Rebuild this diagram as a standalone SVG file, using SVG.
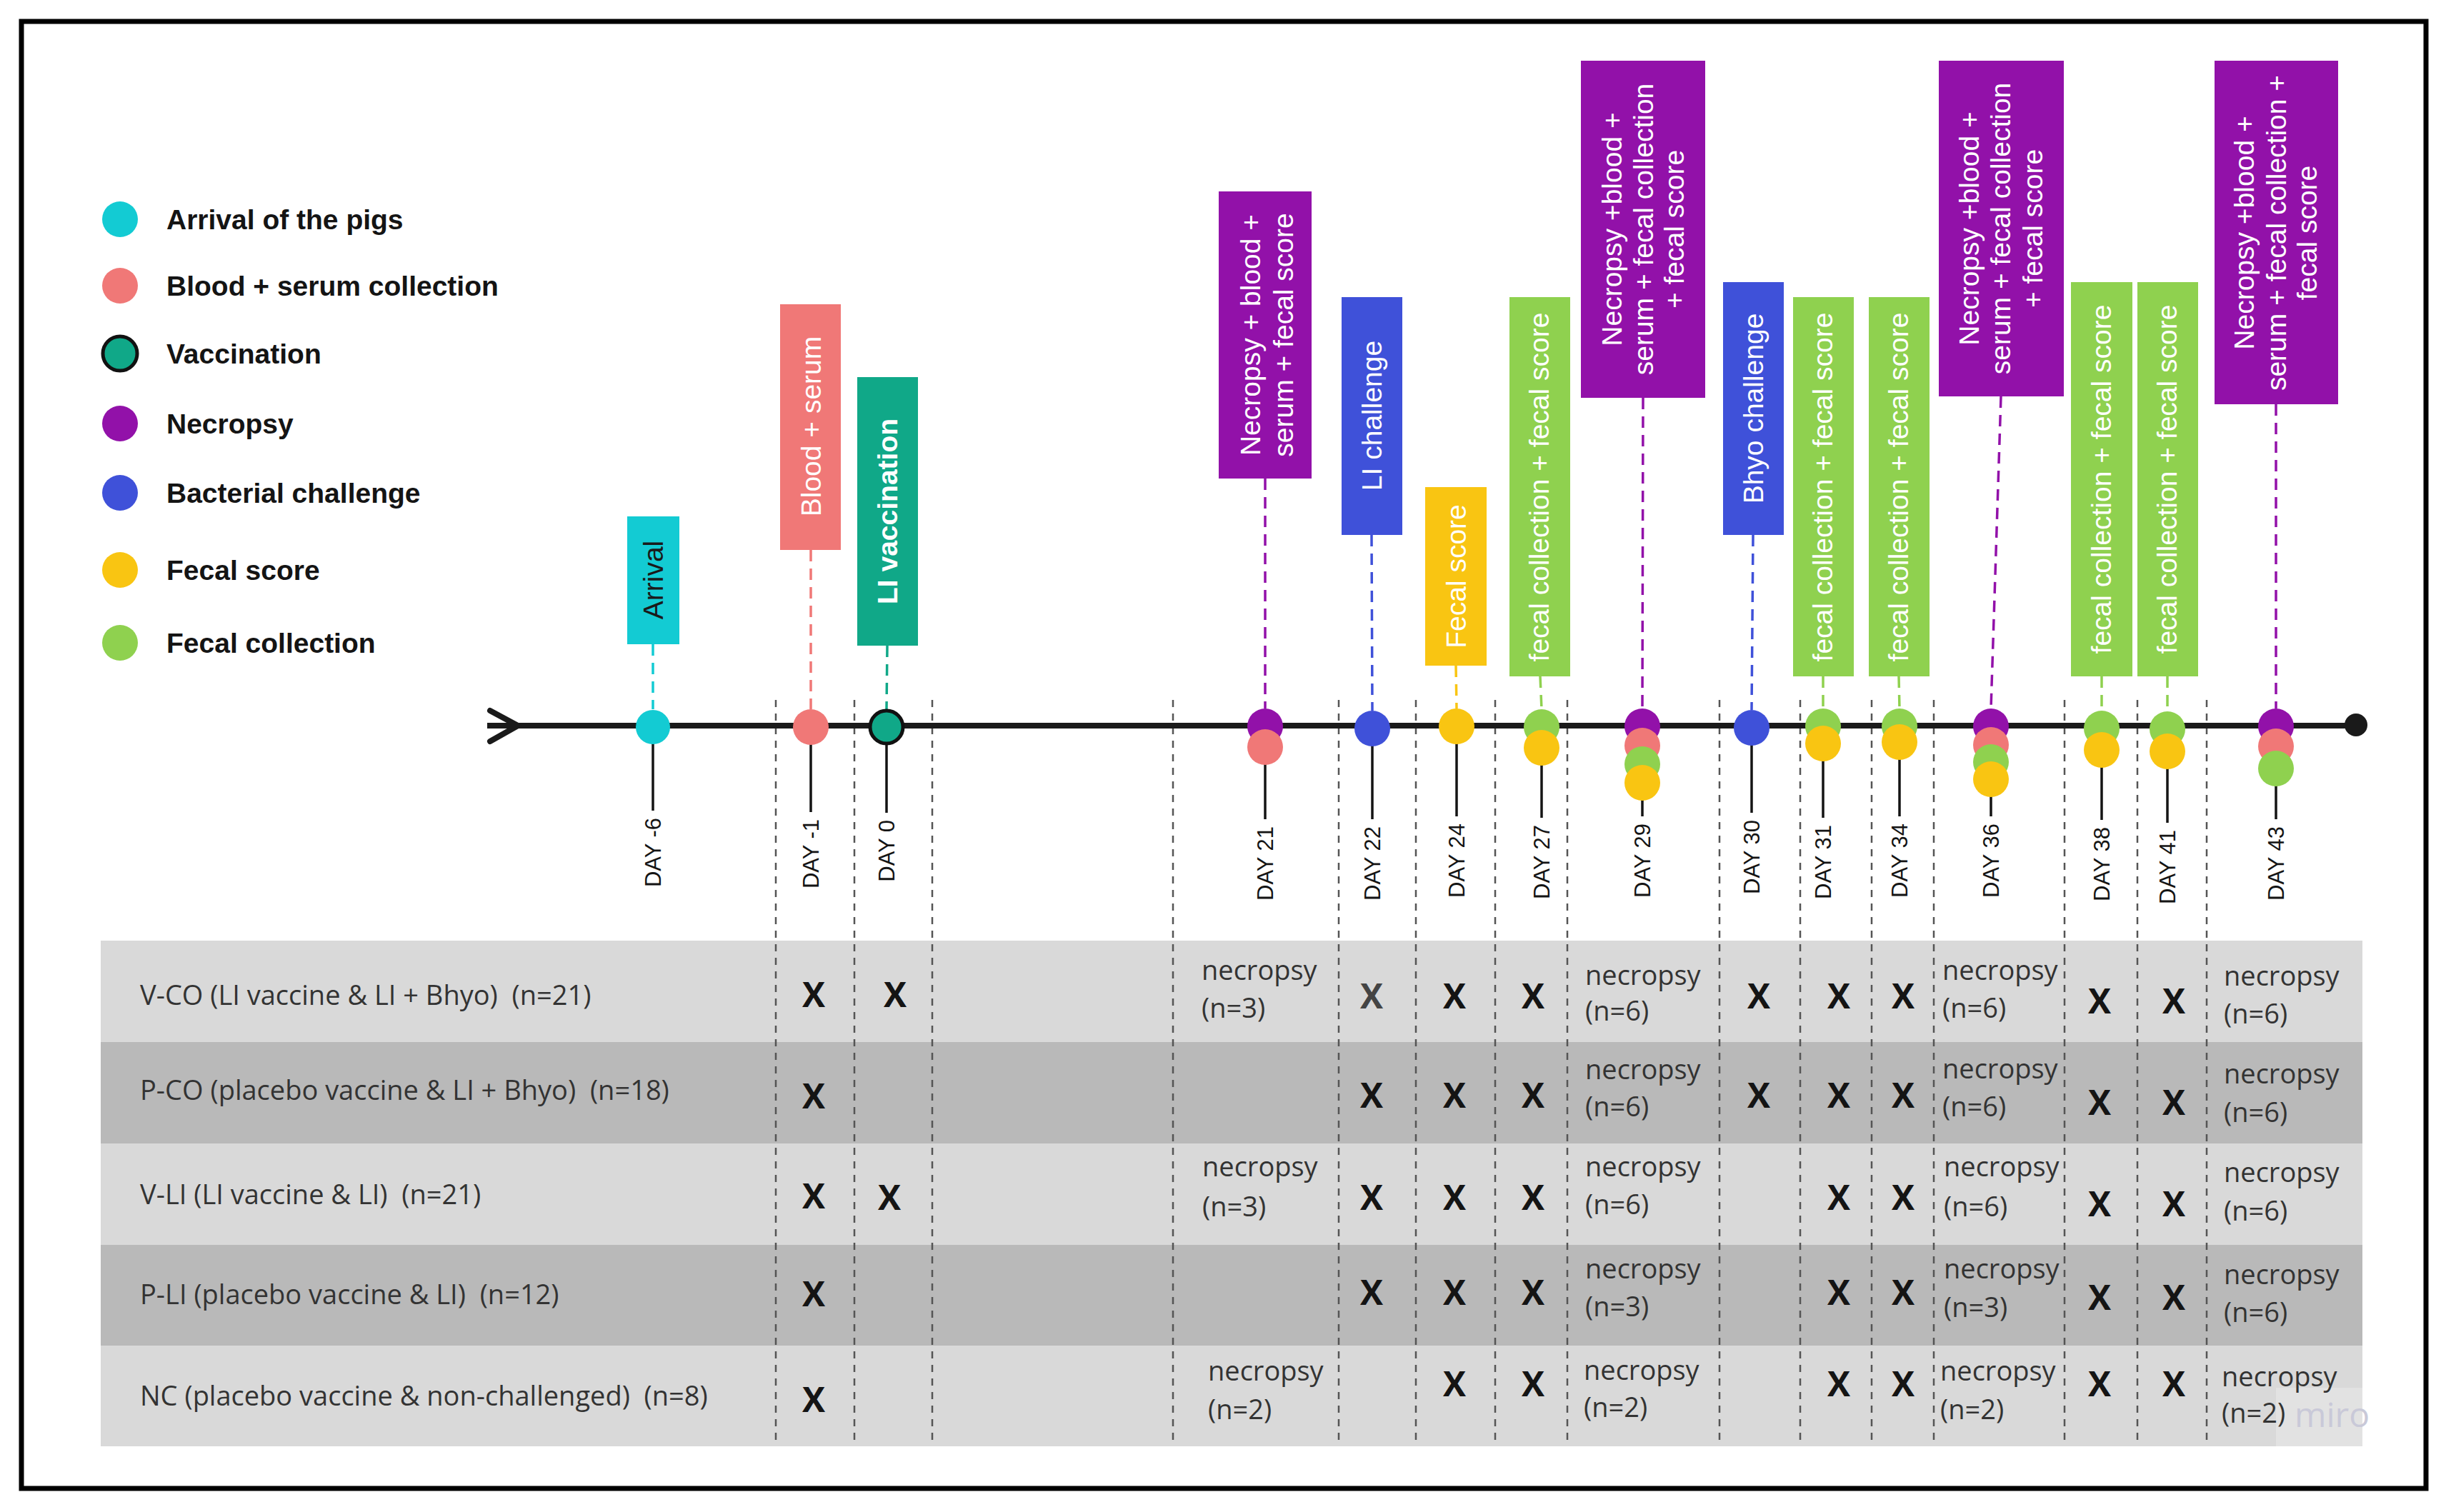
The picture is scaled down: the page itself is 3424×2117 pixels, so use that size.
<svg xmlns="http://www.w3.org/2000/svg" width="3424" height="2117" viewBox="0 0 3424 2117">
<style>
.lg{font-family:"Liberation Sans",Arial,sans-serif;font-weight:bold;font-size:39px;fill:#141414}
.bx{font-family:"Liberation Sans",Arial,sans-serif;font-size:39px;fill:#fff;text-anchor:middle}
.day{font-family:"Liberation Sans",Arial,sans-serif;font-size:31px;fill:#141414;text-anchor:end}
.tb{font-family:"Open Sans",sans-serif;font-size:38px;fill:#333}
.x{font-family:"Open Sans",sans-serif;font-weight:700;font-size:48px;fill:#141414;text-anchor:middle}
.sep{stroke:#555;stroke-width:2.5;stroke-dasharray:10 9;fill:none}
.con{stroke-width:3.5;stroke-dasharray:16 10;fill:none}
.stem{stroke:#141414;stroke-width:3.5}
.cy{fill:#13cbd3}.pk{fill:#f07877}.tl{fill:#10a888}.pu{fill:#9211a9}.bl{fill:#3f51d9}.ye{fill:#f9c512}.gr{fill:#8fd14f}
</style>
<rect width="3424" height="2117" fill="#fff"/>
<rect x="30" y="30" width="3366" height="2054" fill="none" stroke="#000" stroke-width="7"/>

<g id="legend">
<circle class="cy" cx="168" cy="307" r="25"/><text class="lg" x="233" y="321">Arrival of the pigs</text>
<circle class="pk" cx="168" cy="400" r="25"/><text class="lg" x="233" y="414">Blood + serum collection</text>
<circle class="tl" cx="168" cy="495" r="24" stroke="#111" stroke-width="5"/><text class="lg" x="233" y="509">Vaccination</text>
<circle class="pu" cx="168" cy="593" r="25"/><text class="lg" x="233" y="607">Necropsy</text>
<circle class="bl" cx="168" cy="690" r="25"/><text class="lg" x="233" y="704">Bacterial challenge</text>
<circle class="ye" cx="168" cy="798" r="25"/><text class="lg" x="233" y="812">Fecal score</text>
<circle class="gr" cx="168" cy="900" r="25"/><text class="lg" x="233" y="914">Fecal collection</text>
</g>

<g id="table">
<rect x="141" y="1317" width="3166" height="142" fill="#d9d9d9"/>
<rect x="141" y="1459" width="3166" height="142" fill="#b9b9b9"/>
<rect x="141" y="1601" width="3166" height="142" fill="#d9d9d9"/>
<rect x="141" y="1743" width="3166" height="141" fill="#b9b9b9"/>
<rect x="141" y="1884" width="3166" height="141" fill="#d9d9d9"/>
<rect x="3186" y="1943" width="121" height="82" fill="#e2e2e2"/>
<text class="tb" xml:space="preserve" x="196" y="1407">V-CO (LI vaccine &amp; LI + Bhyo)  (n=21)</text>
<text class="tb" xml:space="preserve" x="196" y="1540">P-CO (placebo vaccine &amp; LI + Bhyo)  (n=18)</text>
<text class="tb" xml:space="preserve" x="196" y="1686">V-LI (LI vaccine &amp; LI)  (n=21)</text>
<text class="tb" xml:space="preserve" x="196" y="1826">P-LI (placebo vaccine &amp; LI)  (n=12)</text>
<text class="tb" xml:space="preserve" x="196" y="1968">NC (placebo vaccine &amp; non-challenged)  (n=8)</text>
</g>

<g id="separators">
<path class="sep" d="M1086 980V2025M1196 980V2025M1305 980V2025M1642 980V2025M1874 980V2025M1982 980V2025M2093 980V2025M2194 980V2025M2407 980V2025M2520 980V2025M2620 980V2025M2707 980V2025M2890 980V2025M2992 980V2025M3089 980V2025"/>
</g>

<g id="marks">
<text class="x" x="1139" y="1410">X</text><text class="x" x="1253" y="1410">X</text>
<text class="x" x="1920" y="1412" style="fill:#444">X</text><text class="x" x="2036" y="1412">X</text><text class="x" x="2146" y="1412">X</text>
<text class="x" x="2462" y="1412">X</text><text class="x" x="2574" y="1412">X</text><text class="x" x="2664" y="1412">X</text>
<text class="x" x="2939" y="1419">X</text><text class="x" x="3043" y="1419">X</text>
<text class="x" x="1139" y="1552">X</text>
<text class="x" x="1920" y="1551">X</text><text class="x" x="2036" y="1551">X</text><text class="x" x="2146" y="1551">X</text>
<text class="x" x="2462" y="1551">X</text><text class="x" x="2574" y="1551">X</text><text class="x" x="2664" y="1551">X</text>
<text class="x" x="2939" y="1561">X</text><text class="x" x="3043" y="1561">X</text>
<text class="x" x="1139" y="1692">X</text><text class="x" x="1245" y="1694">X</text>
<text class="x" x="1920" y="1694">X</text><text class="x" x="2036" y="1694">X</text><text class="x" x="2146" y="1694">X</text>
<text class="x" x="2574" y="1694">X</text><text class="x" x="2664" y="1694">X</text>
<text class="x" x="2939" y="1703">X</text><text class="x" x="3043" y="1703">X</text>
<text class="x" x="1139" y="1829">X</text>
<text class="x" x="1920" y="1827">X</text><text class="x" x="2036" y="1827">X</text><text class="x" x="2146" y="1827">X</text>
<text class="x" x="2574" y="1827">X</text><text class="x" x="2664" y="1827">X</text>
<text class="x" x="2939" y="1834">X</text><text class="x" x="3043" y="1834">X</text>
<text class="x" x="1139" y="1977">X</text>
<text class="x" x="2036" y="1955">X</text><text class="x" x="2146" y="1955">X</text>
<text class="x" x="2574" y="1955">X</text><text class="x" x="2664" y="1955">X</text>
<text class="x" x="2939" y="1955">X</text><text class="x" x="3043" y="1955">X</text>
</g>

<g id="necropsy-notes" class="tb">
<text x="1682" y="1372">necropsy</text><text x="1682" y="1425">(n=3)</text>
<text x="1683" y="1647">necropsy</text><text x="1683" y="1703">(n=3)</text>
<text x="1691" y="1933">necropsy</text><text x="1691" y="1987">(n=2)</text>
<text x="2219" y="1379">necropsy</text><text x="2219" y="1429">(n=6)</text>
<text x="2219" y="1511">necropsy</text><text x="2219" y="1563">(n=6)</text>
<text x="2219" y="1647">necropsy</text><text x="2219" y="1700">(n=6)</text>
<text x="2219" y="1790">necropsy</text><text x="2219" y="1843">(n=3)</text>
<text x="2217" y="1932">necropsy</text><text x="2217" y="1984">(n=2)</text>
<text x="2719" y="1372">necropsy</text><text x="2719" y="1425">(n=6)</text>
<text x="2719" y="1510">necropsy</text><text x="2719" y="1563">(n=6)</text>
<text x="2721" y="1647">necropsy</text><text x="2721" y="1703">(n=6)</text>
<text x="2721" y="1790">necropsy</text><text x="2721" y="1844">(n=3)</text>
<text x="2716" y="1933">necropsy</text><text x="2716" y="1987">(n=2)</text>
<text x="3113" y="1380">necropsy</text><text x="3113" y="1433">(n=6)</text>
<text x="3113" y="1517">necropsy</text><text x="3113" y="1571">(n=6)</text>
<text x="3113" y="1655">necropsy</text><text x="3113" y="1709">(n=6)</text>
<text x="3113" y="1798">necropsy</text><text x="3113" y="1851">(n=6)</text>
<text x="3110" y="1941">necropsy</text><text x="3110" y="1992">(n=2)</text>
</g>
<text x="3212" y="1998" font-family="Open Sans, sans-serif" font-size="48" fill="#c9c9d8">miro</text>

<g id="connectors">
<line class="con" stroke="#13cbd3" x1="914" y1="902" x2="914" y2="993"/>
<line class="con" stroke="#f07877" x1="1135" y1="770" x2="1135" y2="993"/>
<line class="con" stroke="#10a888" x1="1242" y1="904" x2="1241" y2="993"/>
<line class="con" stroke="#9211a9" x1="1771" y1="670" x2="1771" y2="992"/>
<line class="con" stroke="#3f51d9" x1="1920" y1="749" x2="1921" y2="995"/>
<line class="con" stroke="#f9c512" x1="2038" y1="932" x2="2039" y2="992"/>
<line class="con" stroke="#8fd14f" x1="2156" y1="947" x2="2158" y2="993"/>
<line class="con" stroke="#9211a9" x1="2300" y1="557" x2="2299" y2="992"/>
<line class="con" stroke="#3f51d9" x1="2454" y1="749" x2="2452" y2="994"/>
<line class="con" stroke="#8fd14f" x1="2552" y1="947" x2="2552" y2="992"/>
<line class="con" stroke="#8fd14f" x1="2658" y1="947" x2="2659" y2="992"/>
<line class="con" stroke="#9211a9" x1="2801" y1="555" x2="2787" y2="992"/>
<line class="con" stroke="#8fd14f" x1="2942" y1="947" x2="2942" y2="995"/>
<line class="con" stroke="#8fd14f" x1="3034" y1="947" x2="3034" y2="996"/>
<line class="con" stroke="#9211a9" x1="3186" y1="566" x2="3186" y2="992"/>
</g>

<g id="timeline">
<line x1="682" y1="1016" x2="3298" y2="1016" stroke="#1a1a1a" stroke-width="8"/>
<polyline points="686,995 725,1016 686,1038" fill="none" stroke="#1a1a1a" stroke-width="8" stroke-linecap="round" stroke-linejoin="round"/>
<circle cx="3298" cy="1015" r="16" fill="#1a1a1a"/>
<path class="stem" d="M914 1016V1135M1135 1016V1137M1241 1016V1138M1771 1016V1147M1921 1016V1147M2039 1016V1143M2158 1016V1145M2299 1016V1143M2452 1016V1138M2552 1016V1145M2659 1016V1143M2787 1016V1143M2942 1016V1148M3034 1016V1152M3186 1016V1147"/>
</g>

<g id="dots">
<circle class="cy" cx="914" cy="1018" r="24"/>
<circle class="pk" cx="1135" cy="1018" r="25"/>
<circle class="tl" cx="1241" cy="1018" r="23" stroke="#111" stroke-width="5"/>
<circle class="pu" cx="1771" cy="1017" r="25"/><circle class="pk" cx="1771" cy="1046" r="25"/>
<circle class="bl" cx="1921" cy="1020" r="25"/>
<circle class="ye" cx="2039" cy="1017" r="25"/>
<circle class="gr" cx="2158" cy="1018" r="25"/><circle class="ye" cx="2158" cy="1047" r="25"/>
<circle class="pu" cx="2299" cy="1017" r="25"/><circle class="pk" cx="2299" cy="1044" r="25"/><circle class="gr" cx="2299" cy="1070" r="25"/><circle class="ye" cx="2299" cy="1096" r="25"/>
<circle class="bl" cx="2452" cy="1019" r="25"/>
<circle class="gr" cx="2552" cy="1017" r="25"/><circle class="ye" cx="2552" cy="1041" r="25"/>
<circle class="gr" cx="2659" cy="1017" r="25"/><circle class="ye" cx="2659" cy="1039" r="25"/>
<circle class="pu" cx="2787" cy="1017" r="25"/><circle class="pk" cx="2787" cy="1043" r="25"/><circle class="gr" cx="2787" cy="1067" r="25"/><circle class="ye" cx="2787" cy="1091" r="25"/>
<circle class="gr" cx="2942" cy="1020" r="25"/><circle class="ye" cx="2942" cy="1050" r="25"/>
<circle class="gr" cx="3034" cy="1021" r="25"/><circle class="ye" cx="3034" cy="1052" r="25"/>
<circle class="pu" cx="3186" cy="1017" r="25"/><circle class="pk" cx="3186" cy="1045" r="25"/><circle class="gr" cx="3186" cy="1076" r="25"/>
</g>

<g id="day-labels" class="day">
<text transform="translate(925,1145) rotate(-90)">DAY -6</text>
<text transform="translate(1146,1147) rotate(-90)">DAY -1</text>
<text transform="translate(1252,1148) rotate(-90)">DAY 0</text>
<text transform="translate(1782,1157) rotate(-90)">DAY 21</text>
<text transform="translate(1932,1157) rotate(-90)">DAY 22</text>
<text transform="translate(2050,1153) rotate(-90)">DAY 24</text>
<text transform="translate(2169,1155) rotate(-90)">DAY 27</text>
<text transform="translate(2310,1153) rotate(-90)">DAY 29</text>
<text transform="translate(2463,1148) rotate(-90)">DAY 30</text>
<text transform="translate(2563,1155) rotate(-90)">DAY 31</text>
<text transform="translate(2670,1153) rotate(-90)">DAY 34</text>
<text transform="translate(2798,1153) rotate(-90)">DAY 36</text>
<text transform="translate(2953,1158) rotate(-90)">DAY 38</text>
<text transform="translate(3045,1162) rotate(-90)">DAY 41</text>
<text transform="translate(3197,1157) rotate(-90)">DAY 43</text>
</g>

<g id="box-arrival"><rect class="cy" x="878" y="723" width="73" height="179"/><text class="bx" style="fill:#1a1a1a" transform="translate(928,812) rotate(-90)">Arrival</text></g>
<g id="box-blood"><rect class="pk" x="1092" y="426" width="85" height="344"/><text class="bx" transform="translate(1149,597) rotate(-90)">Blood + serum</text></g>
<g id="box-vaccination"><rect class="tl" x="1200" y="528" width="85" height="376"/><text class="bx" font-weight="bold" transform="translate(1256,716) rotate(-90)">LI vaccination</text></g>
<g id="box-day21"><rect class="pu" x="1706" y="268" width="130" height="402"/><text class="bx" transform="translate(1764,469) rotate(-90)">Necropsy + blood +</text><text class="bx" transform="translate(1810,469) rotate(-90)">serum + fecal score</text></g>
<g id="box-li-challenge"><rect class="bl" x="1878" y="416" width="85" height="333"/><text class="bx" transform="translate(1934,582) rotate(-90)">LI challenge</text></g>
<g id="box-fecal-score"><rect class="ye" x="1995" y="682" width="86" height="250"/><text class="bx" transform="translate(2052,807) rotate(-90)">Fecal score</text></g>
<g id="box-day27"><rect class="gr" x="2113" y="416" width="85" height="531"/><text class="bx" transform="translate(2168,682) rotate(-90)">fecal collection + fecal score</text></g>
<g id="box-day29"><rect class="pu" x="2213" y="85" width="174" height="472"/><text class="bx" transform="translate(2270,321) rotate(-90)">Necropsy +blood +</text><text class="bx" transform="translate(2314,321) rotate(-90)">serum + fecal collection</text><text class="bx" transform="translate(2357,321) rotate(-90)">+ fecal score</text></g>
<g id="box-bhyo"><rect class="bl" x="2412" y="395" width="85" height="354"/><text class="bx" transform="translate(2468,572) rotate(-90)">Bhyo challenge</text></g>
<g id="box-day31"><rect class="gr" x="2510" y="416" width="85" height="531"/><text class="bx" transform="translate(2565,682) rotate(-90)">fecal collection + fecal score</text></g>
<g id="box-day34"><rect class="gr" x="2616" y="416" width="85" height="531"/><text class="bx" transform="translate(2671,682) rotate(-90)">fecal collection + fecal score</text></g>
<g id="box-day36"><rect class="pu" x="2714" y="85" width="175" height="470"/><text class="bx" transform="translate(2770,320) rotate(-90)">Necropsy +blood +</text><text class="bx" transform="translate(2814,320) rotate(-90)">serum + fecal collection</text><text class="bx" transform="translate(2859,320) rotate(-90)">+ fecal score</text></g>
<g id="box-day38"><rect class="gr" x="2899" y="395" width="86" height="552"/><text class="bx" transform="translate(2955,671) rotate(-90)">fecal collection + fecal score</text></g>
<g id="box-day41"><rect class="gr" x="2992" y="395" width="85" height="552"/><text class="bx" transform="translate(3047,671) rotate(-90)">fecal collection + fecal score</text></g>
<g id="box-day43"><rect class="pu" x="3100" y="85" width="173" height="481"/><text class="bx" transform="translate(3155,326) rotate(-90)">Necropsy +blood +</text><text class="bx" transform="translate(3200,326) rotate(-90)">serum + fecal collection +</text><text class="bx" transform="translate(3243,326) rotate(-90)">fecal score</text></g>
</svg>
